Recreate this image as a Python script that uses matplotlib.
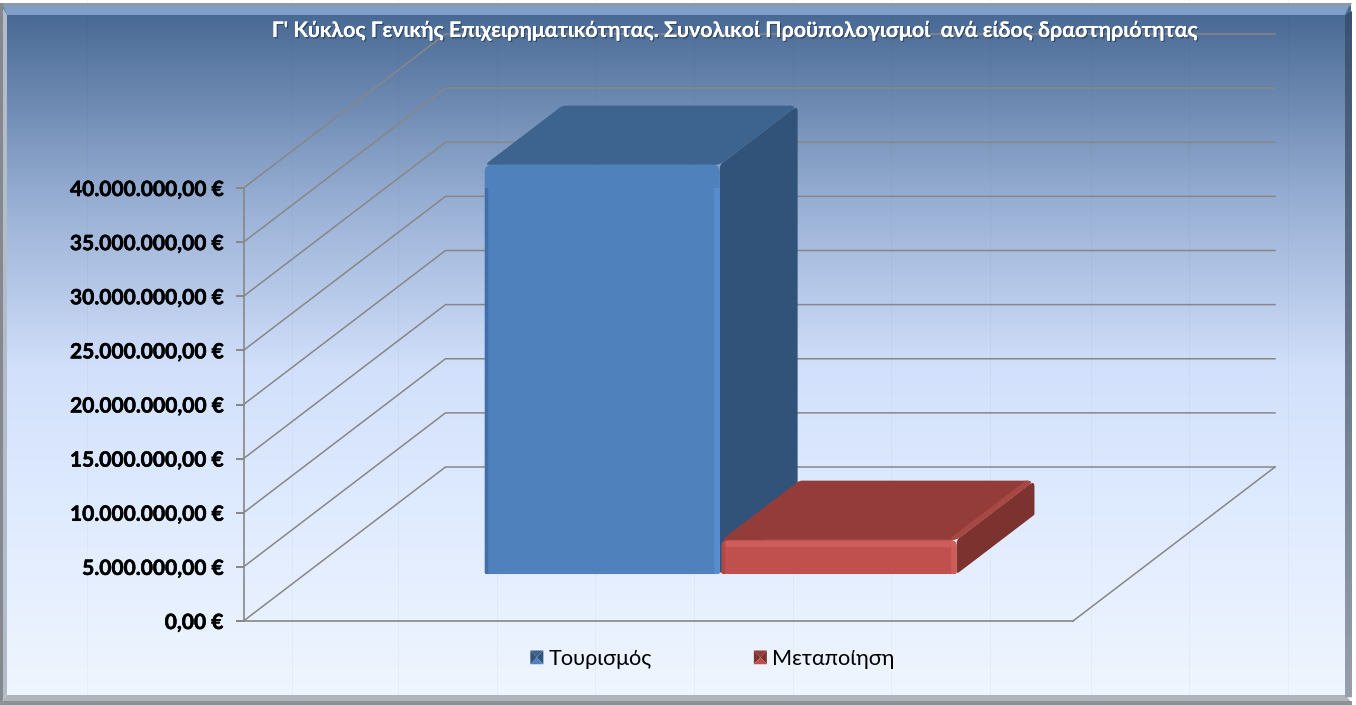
"""3D-look clustered column chart: budgets per activity, drawn on plain 2D axes."""
import numpy as np
import matplotlib
matplotlib.use("Agg")
import matplotlib.pyplot as plt
from matplotlib.patches import Polygon, Patch, PathPatch
from matplotlib.path import Path
from matplotlib.legend_handler import HandlerPatch
from matplotlib.ticker import FuncFormatter
import matplotlib.patheffects as pe

TITLE = "Γ' Κύκλος Γενικής Επιχειρηματικότητας. Συνολικοί Προϋπολογισμοί  ανά είδος δραστηριότητας"
series_names = ["Τουρισμός", "Μεταποίηση"]
series_values = [37800000, 3150000]
y_ticks = [0, 5000000, 10000000, 15000000, 20000000, 25000000, 30000000, 35000000, 40000000]

W, H = 1356, 705
plt.rcParams["font.family"] = ["Lato", "Open Sans", "DejaVu Sans"]

front_col = ["#4f81bd", "#c0504d"]
top_col = ["#3c648f", "#943c3a"]
side_col = ["#315379", "#7c322f"]
light_col = ["#5a8fd2", "#d2615d"]
ridge_col = ["#44709f", "#a84845"]
dark_col = ["#3f6ba3", "#ad4643"]

fig = plt.figure(figsize=(W / 100, H / 100), dpi=100, facecolor="white")

# background, in pixel coordinates
bg = fig.add_axes([0, 0, 1, 1], zorder=0)
bg.set_xlim(0, W)
bg.set_ylim(H, 0)
bg.axis("off")
rows = np.arange(H)
stops_y = [0, 14, 100, 200, 370, 500, 705]
stops_c = np.array([[70, 104, 146], [74, 107, 150], [110, 138, 178], [152, 175, 212],
                    [210, 224, 251], [222, 234, 254], [240, 246, 255]]) / 255
grad = np.stack([np.interp(rows, stops_y, stops_c[:, i]) for i in range(3)], axis=1)[:, None, :]
bg.imshow(grad, extent=[3, 1351, 700, 4], aspect="auto", zorder=0)
for x in [87, 292, 398, 497, 595, 694, 793, 891, 990, 1091, 1189, 1288]:
    bg.plot([x, x], [0, 700], color="#30405a", lw=0.7, alpha=0.04, zorder=1)
# bevels
bg.add_patch(Polygon([(2, 4), (1350, 4), (1345, 15), (7, 15)], fc="#7f9fc8", ec="none", zorder=2))
bg.add_patch(Polygon([(0, 3), (1352, 3), (1350, 6), (2, 6)], fc="#8d99a8", ec="none", zorder=2))
bg.add_patch(Polygon([(0, 3), (7, 15), (7, 695), (0, 703)], fc="#b3bcc9", ec="none", zorder=2))
bg.add_patch(Polygon([(0, 3), (2.5, 3), (2.5, 703), (0, 703)], fc="#85898f", ec="none", zorder=2))
bg.add_patch(Polygon([(0, 703), (7, 695), (1345, 695), (1352, 703)], fc="#b0b5bc", ec="none", zorder=2))
bg.add_patch(Polygon([(0, 701), (1352, 701), (1352, 705), (0, 705)], fc="#8e9196", ec="none", zorder=2))
fade = np.linspace(0, 1, 60)
for i in range(60):
    y0, y1 = 15 + i * 680 / 60, 15 + (i + 1.2) * 680 / 60
    c = (1 - fade[i]) * np.array([58, 82, 112]) + fade[i] * np.array([150, 158, 170])
    bg.add_patch(Polygon([(1345, y0), (1352, y0 - 4), (1352, y1), (1345, y1)],
                         fc=c / 255, ec="none", zorder=2))

# main axes: front plane of the box. x in category units, y in euros
ax = fig.add_axes([243.5 / W, 1 - 621 / H, (1073 - 243.5) / W, (621 - 188) / H], zorder=1)
ax.patch.set_alpha(0)
ax.set_xlim(0, 1)
ax.set_ylim(0, y_ticks[-1])
SX = 1073 - 243.5                      # pixels per x unit
SY = (621 - 188) / y_ticks[-1]         # pixels per euro
DX = 202 / SX
DY = 154 / SY


def proj(x, v, d):
    return x + d * DX, v + d * DY


def rounded(pts, radii, **kw):
    # polygon with corners cut by a quadratic curve; radii are in pixels
    P = [np.array(p) for p in pts]
    scale = np.array([SX, SY])
    verts, codes = [], []
    for i, p in enumerate(P):
        prev, nxt = P[i - 1], P[(i + 1) % len(P)]
        to_prev = (prev - p) * scale
        to_next = (nxt - p) * scale
        a = p + (to_prev / np.linalg.norm(to_prev)) * radii[i] / scale
        b = p + (to_next / np.linalg.norm(to_next)) * radii[i] / scale
        verts += [a, p, b]
        codes += [Path.LINETO if i else Path.MOVETO, Path.CURVE3, Path.CURVE3]
    verts.append(verts[0])
    codes.append(Path.CLOSEPOLY)
    return PathPatch(Path(verts, codes), ec="none", clip_on=False, **kw)


def band(p, q, off_px, color, lw, alpha, z, face):
    # line from p to q shifted by off_px pixels, clipped to its rounded face
    ox, oy = off_px[0] / SX, off_px[1] / SY
    ln, = ax.plot([p[0] + ox, q[0] + ox], [p[1] + oy, q[1] + oy], color=color, lw=lw, alpha=alpha,
                  solid_capstyle="butt", zorder=z)
    ln.set_clip_path(face)


grid_c = "#878787"
for v in y_ticks:
    a, b, c = proj(0, v, 0), proj(0, v, 1), proj(1, v, 1)
    ax.plot([a[0], b[0], c[0]], [a[1], b[1], c[1]], color=grid_c, lw=1.1, clip_on=False, zorder=1)
a, b = proj(1, 0, 0), proj(1, 0, 1)
ax.plot([a[0], b[0]], [a[1], b[1]], color=grid_c, lw=1.1, clip_on=False, zorder=1)

for s in ["top", "right"]:
    ax.spines[s].set_visible(False)
for s in ["left", "bottom"]:
    ax.spines[s].set_color(grid_c)
    ax.spines[s].set_linewidth(1.2)
ax.set_xticks([])
ax.set_yticks(y_ticks)
ax.yaxis.set_major_formatter(FuncFormatter(
    lambda v, p: f"{v:,.2f} €".replace(",", "#").replace(".", ",").replace("#", ".")))
ax.tick_params(axis="y", length=5.5, width=1.4, color=grid_c, pad=9, labelsize=15.1)
for t in ax.get_yticklabels():
    t.set_fontweight("bold")
    t.set_color("black")
    t.set_path_effects([pe.withStroke(linewidth=0.4, foreground="black")])

# bars
BAR_W = 0.2835
D0, D1 = 0.305, 0.69
for i, val in enumerate(series_values):
    x0 = 0.5 - BAR_W + i * BAR_W + (0.002 if i else 0)
    x1 = x0 + BAR_W
    z = 3 + i
    front = [proj(x0, 0, D0), proj(x1, 0, D0), proj(x1, val, D0), proj(x0, val, D0)]
    top = [proj(x0, val, D0), proj(x1, val, D0), proj(x1, val, D1), proj(x0, val, D1)]
    side = [proj(x1, 0, D0), proj(x1, 0, D1), proj(x1, val, D1), proj(x1, val, D0)]
    side_p = rounded(side, [3, 1, 6, 3], fc=side_col[i], zorder=z)
    top_p = rounded(top, [5, 5, 8, 3], fc=top_col[i], zorder=z)
    front_p = rounded(front, [2, 2, 7, 7], fc=front_col[i], zorder=z + 0.2)
    ax.add_patch(side_p)
    ax.add_patch(top_p)
    ax.add_patch(front_p)
    # ridge between top and side faces
    band(top[1], top[2], (-3, -1), ridge_col[i], 6, 1, z + 0.1, top_p)
    # bevel along the edges of the front face
    band(front[3], front[2], (0, -4), light_col[i], 4.5, 0.8, z + 0.3, front_p)
    band(front[1], front[2], (-3, 0), light_col[i], 4, 0.8, z + 0.3, front_p)
    band(front[0], front[3], (1, 0), dark_col[i], 2.5, 0.8, z + 0.3, front_p)

# title and legend
title = fig.text(735 / W, 1 - 31 / H, TITLE, ha="center", va="center", color="white",
                 fontweight="bold", fontsize=15.4, zorder=5)
title.set_path_effects([pe.withSimplePatchShadow(offset=(1, -1), shadow_rgbFace="#1c2f4a", alpha=0.6),
                        pe.Normal()])


class BevelSquare(HandlerPatch):
    def create_artists(self, legend, orig, xd, yd, w, h, fontsize, trans):
        i = series_names.index(orig.get_label())
        x0, y0 = -xd, -yd
        c = (x0 + w / 2, y0 + h / 2)
        ll, lr, ur, ul = (x0, y0), (x0 + w, y0), (x0 + w, y0 + h), (x0, y0 + h)
        faces = [([ul, ur, c], top_col[i]), ([lr, ur, c], side_col[i]),
                 ([ll, ul, c], side_col[i]), ([ll, lr, c], front_col[i])]
        return [Polygon(p, fc=col, ec="none", transform=trans) for p, col in faces]


handles = [Patch(label=n) for n in series_names]
fig.legend(handles=handles, ncols=2, frameon=False, fontsize=15.6, loc="center",
           bbox_to_anchor=(712.5 / W, 1 - 659 / H), handlelength=0.6, handleheight=0.6,
           handletextpad=0.25, columnspacing=4.7,
           handler_map={Patch: BevelSquare()})

fig.savefig("out.png", dpi=100, facecolor="white")
